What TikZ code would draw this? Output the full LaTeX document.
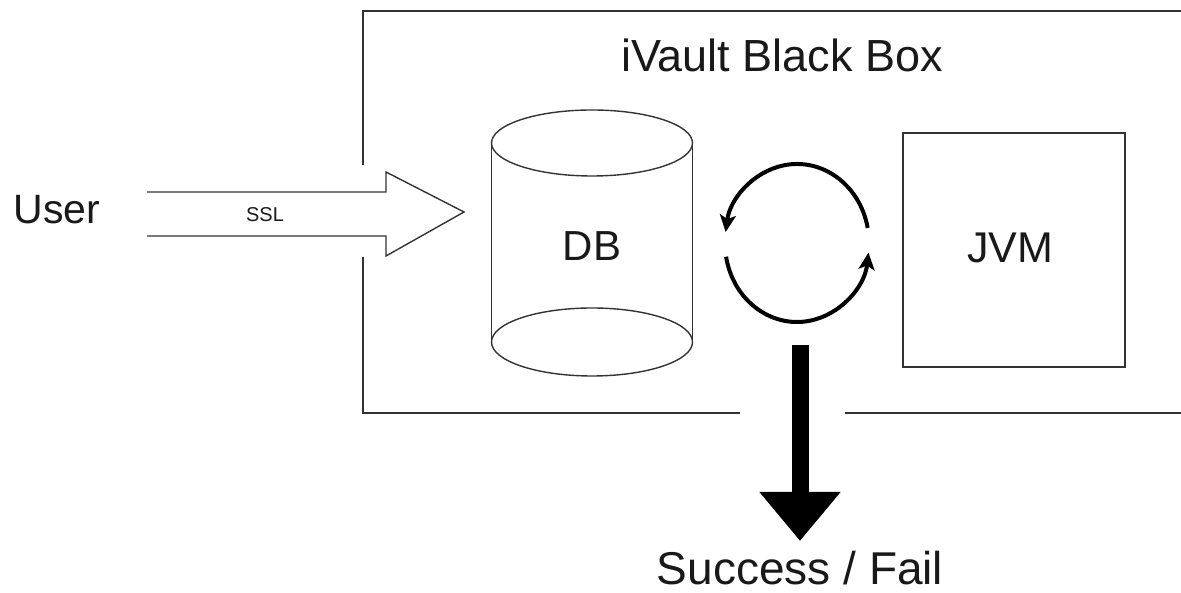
\documentclass[tikz,border=0pt]{standalone}
\usepackage{fontspec}
\setmainfont{Liberation Sans}
\usetikzlibrary{arrows.meta,calc}
\begin{document}
\begin{tikzpicture}[x=1pt,y=1pt,
  boxline/.style={draw=black!80,line width=1.6pt},
  thin/.style={draw=black!80,line width=1.4pt},
  lbl/.style={inner sep=0pt,text=black!90},
  cyc/.style={line width=4pt,-{Stealth[length=17pt,width=16pt,inset=4pt]}}]
\useasboundingbox (0,0) rectangle (1181,593);
% outer box
\coordinate (tl) at (363,582);
\coordinate (tr) at (1181,582);
\coordinate (bl) at (363,180);
\coordinate (gapL) at (740,180);
\coordinate (gapR) at (845,180);
\coordinate (br) at (1181,180);
\coordinate (lgapT) at (363,428);
\coordinate (lgapB) at (363,336);
\draw[boxline] (tr) -- (tl) -- (lgapT);
\draw[boxline] (lgapB) -- (bl) -- (gapL);
\draw[boxline] (gapR) -- (br);
\node[lbl,font=\fontsize{45}{54}\selectfont] (title) at (782,538) {iVault Black Box};
% DB cylinder
\draw[thin] (592,450) ellipse [x radius=100.5,y radius=33];
\draw[thin] (592,251) ellipse [x radius=100.5,y radius=34];
\draw[thin] (491.5,450) -- (491.5,251);
\draw[thin] (692.5,450) -- (692.5,251);
\node[lbl,font=\fontsize{42}{50}\selectfont] (db) at (592,347) {DB};
% JVM
\draw[thin] (903,226) rectangle (1125,460);
\node[lbl,font=\fontsize{43}{52}\selectfont] (jvm) at (1010,345) {JVM};
% User
\node[lbl,font=\fontsize{41}{50}\selectfont] (user) at (57,383) {User};
% hollow arrow
\coordinate (s1) at (147,401);
\coordinate (s2) at (386,401);
\coordinate (h1) at (386,421);
\coordinate (tip) at (464,381);
\coordinate (h2) at (386,337);
\coordinate (s3) at (386,357);
\coordinate (s4) at (147,357);
\draw[thin,line join=miter] (s1) -- (s2) -- (h1) -- (tip) -- (h2) -- (s3) -- (s4);
\node[lbl,font=\fontsize{20}{24}\selectfont] (ssl) at (265,378) {SSL};
% cycle
\coordinate (cc) at (797,350);
\draw[cyc] ($(cc)+(11:72 and 79)$) arc[start angle=11,end angle=172,x radius=72,y radius=79];
\draw[cyc] ($(cc)+(190:72 and 79)$) arc[start angle=190,end angle=353,x radius=72,y radius=79];
% result arrow
\coordinate (rs) at (800,248);
\coordinate (rt) at (800,52);
\draw[line width=17pt,-{Triangle[length=49pt,width=78pt]}] (rs) -- (rt);
\node[lbl,font=\fontsize{46}{55}\selectfont] (res) at (800,25) {Success / Fail};
\end{tikzpicture}
\end{document}
